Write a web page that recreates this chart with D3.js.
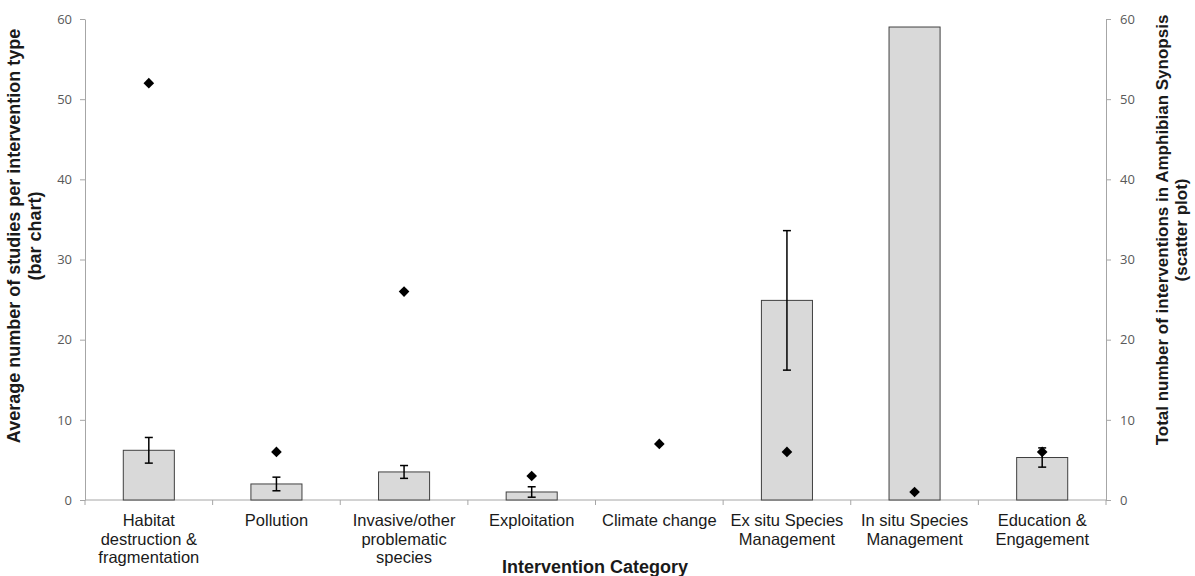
<!DOCTYPE html>
<html>
<head>
<meta charset="utf-8">
<script src="https://cdn.jsdelivr.net/npm/d3@7"></script>
<style>
  body { margin: 0; background: #fff; }
  svg { display: block; }
</style>
</head>
<body>
<svg id="chart" width="1195" height="576"></svg>
<script>
// Intervention categories (multi-line labels split on "\n")
const categories = [
  "Habitat\ndestruction &\nfragmentation",
  "Pollution",
  "Invasive/other\nproblematic\nspecies",
  "Exploitation",
  "Climate change",
  "Ex situ Species\nManagement",
  "In situ Species\nManagement",
  "Education &\nEngagement"
];
// Average number of studies per intervention type (bars)
const avgStudies = [6.2, 2.0, 3.5, 1.0, 0, 24.9, 59.0, 5.3];
// Error bar half-widths for the bars
const avgError = [1.6, 0.85, 0.8, 0.65, 0, 8.7, 0, 1.2];
// Total number of interventions (scatter, right axis)
const totalInterventions = [52, 6, 26, 3, 7, 6, 1, 6];
// Axis ticks
const yTicks = [0, 10, 20, 30, 40, 50, 60];

const svg = d3.select("#chart");
const plotLeft = 85, plotRight = 1106, plotTop = 19, plotBottom = 500;

const x = d3.scaleBand().domain(d3.range(categories.length)).range([plotLeft, plotRight]).paddingInner(0).paddingOuter(0);
const yL = d3.scaleLinear().domain([0, 60]).range([plotBottom, plotTop]);
const yR = d3.scaleLinear().domain([0, 60]).range([plotBottom, plotTop]);

const axisColor = "#a6a6a6";
const tickFont = "'Open Sans', 'DejaVu Sans', sans-serif";
const labelFont = "'Liberation Sans', Arial, sans-serif";

// Left axis
const gL = svg.append("g").attr("transform", `translate(${plotLeft},0)`)
  .call(d3.axisLeft(yL).tickValues(yTicks).tickSize(5).tickPadding(8).tickSizeOuter(0));
// Right axis
const gR = svg.append("g").attr("transform", `translate(${plotRight},0)`)
  .call(d3.axisRight(yR).tickValues(yTicks).tickSize(5).tickPadding(9).tickSizeOuter(0));
[gL, gR].forEach(g => {
  g.select(".domain").attr("stroke", axisColor);
  g.selectAll(".tick line").attr("stroke", axisColor);
  g.selectAll(".tick text").attr("fill", "#595959").style("font-family", tickFont).style("font-size", "13px");
});

// X axis baseline with ticks at category boundaries
const boundaries = d3.range(categories.length + 1).map(i => i === categories.length ? plotRight : x(i));
svg.append("line").attr("x1", plotLeft).attr("x2", plotRight).attr("y1", plotBottom).attr("y2", plotBottom)
  .attr("stroke", axisColor);
svg.selectAll(".xtick").data(boundaries).join("line")
  .attr("x1", d => d).attr("x2", d => d).attr("y1", plotBottom).attr("y2", plotBottom + 5)
  .attr("stroke", axisColor);

// Bars
const barW = x.bandwidth() * 0.4;
svg.selectAll(".bar").data(avgStudies).join("rect")
  .attr("x", (d, i) => x(i) + (x.bandwidth() - barW) / 2)
  .attr("y", d => yL(d))
  .attr("width", barW)
  .attr("height", d => plotBottom - yL(d))
  .attr("fill", d => d > 0 ? "#d9d9d9" : "none")
  .attr("stroke", d => d > 0 ? "#404040" : "none")
  .attr("stroke-width", 1);

// Error bars
const eb = svg.selectAll(".err").data(avgStudies.map((v, i) => ({ v, e: avgError[i], i })).filter(d => d.e > 0))
  .join("g");
eb.append("line")
  .attr("x1", d => x(d.i) + x.bandwidth() / 2).attr("x2", d => x(d.i) + x.bandwidth() / 2)
  .attr("y1", d => yL(d.v + d.e)).attr("y2", d => yL(d.v - d.e))
  .attr("stroke", "#000").attr("stroke-width", 1.5);
[1, -1].forEach(s => {
  eb.append("line")
    .attr("x1", d => x(d.i) + x.bandwidth() / 2 - 4).attr("x2", d => x(d.i) + x.bandwidth() / 2 + 4)
    .attr("y1", d => yL(d.v + s * d.e)).attr("y2", d => yL(d.v + s * d.e))
    .attr("stroke", "#000").attr("stroke-width", 1.5);
});

// Scatter diamonds
svg.selectAll(".pt").data(totalInterventions).join("path")
  .attr("d", d3.symbol().type(d3.symbolDiamond2).size(72))
  .attr("transform", (d, i) => `translate(${x(i) + x.bandwidth() / 2},${yR(d)})`)
  .attr("fill", "#000");

// Category labels
const catG = svg.selectAll(".cat").data(categories).join("text")
  .attr("text-anchor", "middle")
  .attr("x", (d, i) => x(i) + x.bandwidth() / 2)
  .attr("y", 526)
  .style("font-family", labelFont).style("font-size", "16.5px").attr("fill", "#1a1a1a");
catG.each(function(d) {
  const t = d3.select(this);
  d.split("\n").forEach((line, k) => {
    t.append("tspan").attr("x", t.attr("x")).attr("dy", k === 0 ? 0 : 18.5).text(line);
  });
});

// Axis titles
svg.append("text").attr("x", 595).attr("y", 573).attr("text-anchor", "middle")
  .style("font-family", labelFont).style("font-size", "18px").style("font-weight", "bold")
  .attr("fill", "#1a1a1a").text("Intervention Category");

const lt = svg.append("text").attr("transform", "translate(20,236) rotate(-90)").attr("text-anchor", "middle")
  .style("font-family", labelFont).style("font-size", "18px").style("font-weight", "bold").attr("fill", "#1a1a1a");
lt.append("tspan").attr("x", 0).attr("dy", 0).text("Average number of studies per intervention type");
lt.append("tspan").attr("x", 0).attr("dy", 21).text("(bar chart)");

const rt = svg.append("text").attr("transform", "translate(1168,230) rotate(-90)").attr("text-anchor", "middle")
  .style("font-family", labelFont).style("font-size", "17px").style("font-weight", "bold").attr("fill", "#1a1a1a");
rt.append("tspan").attr("x", 0).attr("dy", 0).text("Total number of interventions in Amphibian Synopsis");
rt.append("tspan").attr("x", 0).attr("dy", 19).text("(scatter plot)");
</script>
</body>
</html>
